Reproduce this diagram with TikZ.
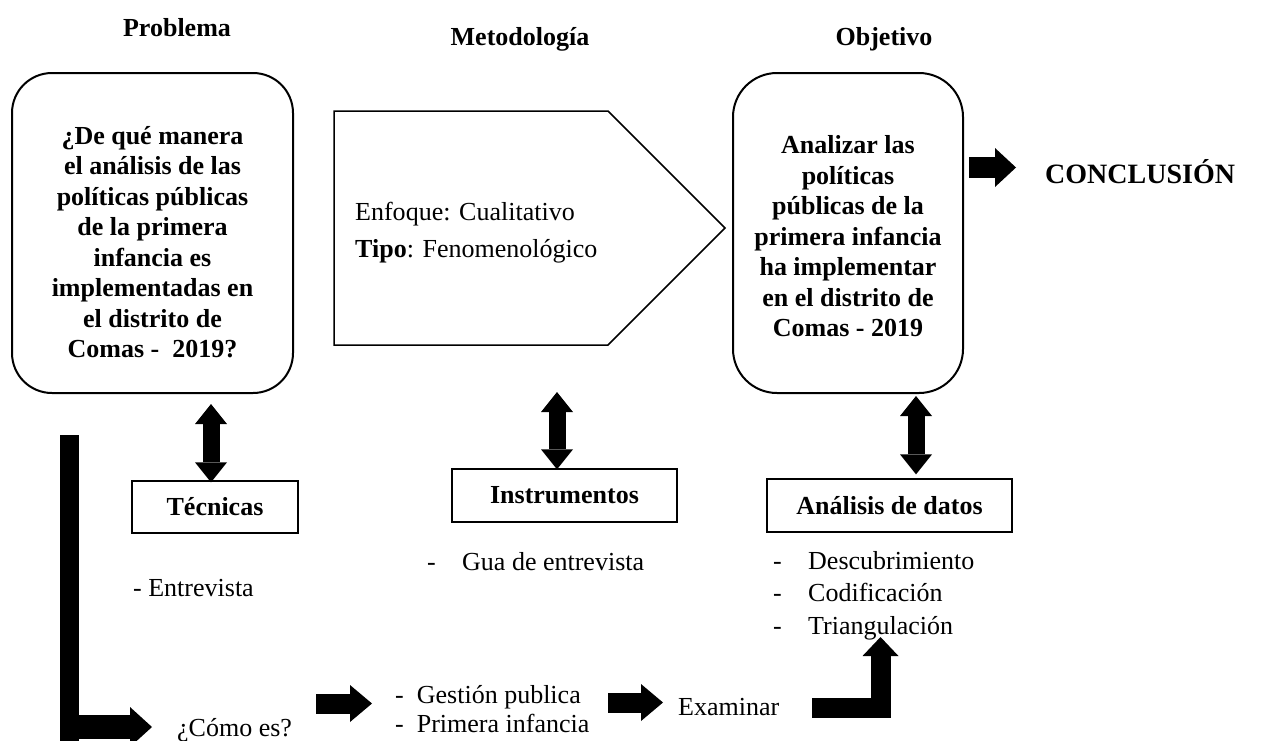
\documentclass[tikz,border=0pt]{standalone}
\usepackage{fontspec}
\setmainfont{Liberation Serif}
\usetikzlibrary{arrows.meta,calc}
\begin{document}
\begin{tikzpicture}[x=1pt,y=-1pt,
  txt/.style={inner sep=0pt,font=\fontsize{26}{30.5}\selectfont},
  bt/.style={inner sep=0pt,font=\fontsize{26}{30.5}\selectfont\bfseries},
  rbox/.style={draw,line width=2pt,rounded corners=40pt,inner sep=0pt},
  lbox/.style={draw,line width=1.3pt,inner sep=0pt},
  dbl/.style={line width=17pt,{Triangle[length=20pt,width=32pt,line width=0pt]}-{Triangle[length=20pt,width=32pt,line width=0pt]}},
  barr/.style={line width=20pt,-{Triangle[length=22pt,width=37pt,line width=0pt]}}
]
\useasboundingbox (0,0) rectangle (1276,740);
\clip (0,0) rectangle (1276,740);

% headings
\node[bt,anchor=base] (hprob) at (177,36.5) {Problema};
\node[bt,anchor=base] (hmet) at (520,45) {Metodología};
\node[bt,anchor=base] (hobj) at (884,45) {Objetivo};

% problem box
\node[rbox,minimum width=281pt,minimum height=320pt] (prob) at (152.5,233) {};
\node[bt,align=center] (probtxt) at (152.5,242) {¿De qué manera\\el análisis de las\\políticas públicas\\de la primera\\infancia es\\implementadas en\\el distrito de\\Comas -\ \ 2019?};

% methodology pentagon
\draw[line width=1.5pt] (334,111) -- (608,111) -- (725,228) coordinate (mtip) -- (608,345) -- (334,345) -- cycle;
\coordinate (metbot) at (557,345);
\node[txt,anchor=base west] (enf) at (355,220) {Enfoque: Cualitativo};
\node[txt,anchor=base west] (tipo) at (355,257) {\textbf{Tipo}: Fenomenológico};

% objective box
\node[rbox,rounded corners=44pt,minimum width=230pt,minimum height=320pt] (obj) at (848,233) {};
\node[bt,align=center] (objtxt) at (848,236.5) {Analizar las\\políticas\\públicas de la\\primera infancia\\ha implementar\\en el distrito de\\Comas - 2019};

% conclusion
\node[inner sep=0pt,anchor=west,font=\fontsize{28}{32}\selectfont\bfseries] (concl) at (1045,172) {CONCLUSIÓN};
\draw[line width=21pt,-{Triangle[length=21pt,width=39pt,line width=0pt]}] ($(obj.east)+(5,-65.5)$) -- ([xshift=-29pt,yshift=4.5pt]concl.west);

% lower boxes
\node[lbox,minimum width=166pt,minimum height=52pt,bt] (tec) at (215,507) {Técnicas};
\node[lbox,minimum width=225pt,minimum height=53pt,bt] (instr) at (564.5,495.5) {Instrumentos};
\node[lbox,minimum width=245pt,minimum height=53pt,bt] (ana) at (889.5,505.5) {Análisis de datos};

% double arrows
\draw[dbl] ([xshift=58.5pt,yshift=-10pt]prob.south) -- ([xshift=-4pt,yshift=-2pt]tec.north);
\draw[dbl] ([yshift=-47pt]metbot) -- ([xshift=-7.5pt,yshift=-1pt]instr.north);
\draw[dbl] ([xshift=68pt,yshift=-2pt]obj.south) -- ([xshift=26.5pt,yshift=4pt]ana.north);

% lists
\node[txt,anchor=base west] (entr) at (133,596) {- Entrevista};
\node[txt,anchor=base west] (gua) at (427,570) {\makebox[35pt][l]{-}Gua de entrevista};
\node[txt,anchor=base west] (a1) at (773,569) {\makebox[35pt][l]{-}Descubrimiento};
\node[txt,anchor=base west] (a2) at (773,601.5) {\makebox[35pt][l]{-}Codificación};
\node[txt,anchor=base west] (a3) at (773,634) {\makebox[35pt][l]{-}Triangulación};

% bottom flow
\node[txt,anchor=base west] (como) at (177,736) {¿Cómo es?};
\node[txt,anchor=base west] (g1) at (395,703) {-\ \ Gestión publica};
\node[txt,anchor=base west] (g2) at (395,732) {-\ \ Primera infancia};
\node[txt,anchor=base west] (exam) at (678,715) {Examinar};

% left L arrow
\coordinate (ltop) at (69.5,435);
\fill (60,435) rectangle (79,750);
\coordinate (lcorner) at (79,727);
\coordinate (lend) at (152,727);
\draw[line width=24pt,-{Triangle[length=22pt,width=40pt,line width=0pt]}] (lcorner) -- (lend);

% bottom arrows
\coordinate (b1s) at (316,703.5);
\coordinate (b1e) at (372,703.5);
\draw[barr] (b1s) -- (b1e);
\coordinate (b2s) at (608,702.5);
\coordinate (b2e) at (663,702.5);
\draw[barr] (b2s) -- (b2e);

% right L arrow
\coordinate (rs) at (812,707.5);
\coordinate (rc) at (880.5,707.5);
\coordinate (rt) at (880.5,637);
\draw[line width=20pt,line join=miter,-{Triangle[length=19pt,width=36pt,line width=0pt]}] (rs) -- (rc) -- (rt);
\end{tikzpicture}
\end{document}
